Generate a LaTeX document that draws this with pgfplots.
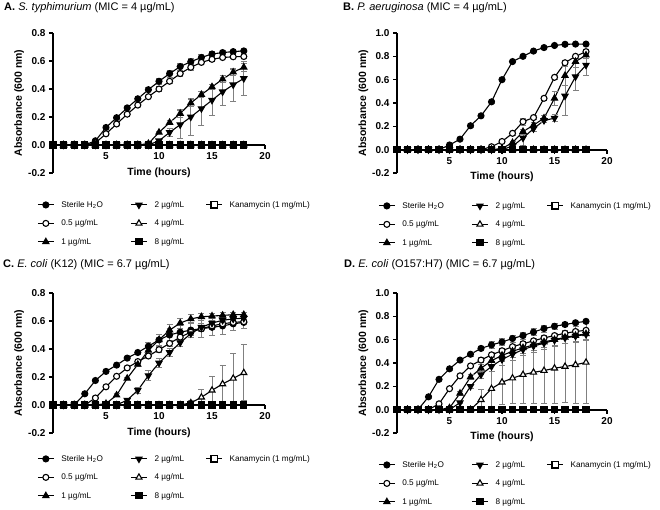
\documentclass[border=0pt]{standalone}
\usepackage{fontspec}
\setmainfont{Liberation Sans}
\usepackage{pgfplots}
\usepackage{pgfplotstable}
\pgfplotsset{compat=1.18}

% shared look of the four growth-curve panels
\pgfplotsset{
  s1/.style={black, line width=1.1pt, mark=*, mark size=3pt, mark options={solid}},
  s2/.style={black, line width=1.1pt, mark=*, mark size=3pt, mark options={solid, fill=white}},
  s3/.style={black, line width=1.1pt, mark=triangle*, mark size=3.5pt, mark options={solid}},
  s4/.style={black, line width=1.1pt, mark=triangle*, mark size=3.5pt, mark options={solid, rotate=180}},
  s5/.style={black, line width=1.1pt, mark=triangle*, mark size=3.5pt, mark options={solid, fill=white}},
  s6/.style={black, line width=1.1pt, mark=square*, mark size=3.1pt, mark options={solid}},
  s7/.style={black, line width=1.1pt, mark=square*, mark size=3.1pt, mark options={solid, fill=white}},
  eb/.style={error bars/y dir=both, error bars/y explicit,
    error bars/error bar style={gray, line width=0.8pt},
    error bars/error mark options={rotate=90, mark size=3pt, gray, line width=0.8pt}},
  panel/.style={scale only axis, width=212pt, height=140pt, xmin=0, xmax=20,
    axis x line*=middle, axis y line*=left, clip=false,
    hide obscured x ticks=false, hide obscured y ticks=false,
    axis line style={line width=1.7pt}, tick style={line width=1.4pt, black},
    major tick length=4pt, tick align=outside,
    xtick={5,10,15,20},
    xticklabel={\pgfmathprintnumber[assume math mode=true]{\tick}},
    yticklabel={\pgfmathprintnumber[assume math mode=true,fixed,fixed zerofill,precision=1]{\tick}},
    tick label style={font=\bfseries\fontsize{10}{11}\selectfont},
    label style={font=\bfseries\fontsize{10.5}{12}\selectfont},
    xlabel={Time (hours)}, ylabel={Absorbance (600 nm)},
    ylabel style={at={(axis description cs:-0.16,0.5)}, anchor=center},
    legend columns=3, legend cell align=left,
    legend style={draw=none, fill=none, font=\fontsize{8.2}{10}\selectfont, anchor=north west,
      inner sep=0pt, nodes={inner xsep=0pt, inner ysep=1pt}, row sep=9pt,
      /tikz/every odd column/.append style={column sep=7pt},
      /tikz/every even column/.append style={column sep=0pt}},
    legend image code/.code={\draw[mark repeat=2, mark phase=2, ##1] plot coordinates {(0pt,0pt) (8pt,0pt) (16pt,0pt)};}
  }
}

\newcommand{\panellegend}{%
  \addlegendimage{s1}\addlegendentry{\makebox[69pt][l]{Sterile H\textsubscript{2}O}}
  \addlegendimage{s4}\addlegendentry{\makebox[51pt][l]{2 µg/mL}}
  \addlegendimage{s7}\addlegendentry{Kanamycin (1 mg/mL)}
  \addlegendimage{s2}\addlegendentry{0.5 µg/mL}
  \addlegendimage{s5}\addlegendentry{4 µg/mL}
  \addlegendimage{empty legend}\addlegendentry{}
  \addlegendimage{s3}\addlegendentry{1 µg/mL}
  \addlegendimage{s6}\addlegendentry{8 µg/mL}
}

\pgfplotstableread{
t v
0 0
1 0
2 0
3 0
4 0
5 0
6 0
7 0
8 0
9 0
10 0
11 0
12 0
13 0
14 0
15 0
16 0
17 0
18 0
}\zeroline

% columns: water, 0.5, 1, 2, 4 ug/mL with their error
\pgfplotstableread{
t w we a ae b be c ce d de
0 0 0 0 0 0 0 0 0 0 0
1 0 0 0 0 0 0 0 0 0 0
2 0 0 0 0 0 0 0 0 0 0
3 0 0 0 0 0 0 0 0 0 0
4 0.03 0.01 0.015 0.01 0 0 0 0 0 0
5 0.125 0.01 0.08 0.01 0 0 0 0 0 0
6 0.195 0.01 0.15 0.01 0 0 0 0 0 0
7 0.265 0.01 0.22 0.01 0 0 0 0 0 0
8 0.33 0.015 0.285 0.01 0 0 0 0 0 0
9 0.395 0.015 0.345 0.01 0.01 0.005 0 0 0 0
10 0.455 0.02 0.40 0.015 0.09 0.01 0.03 0.01 0 0
11 0.51 0.025 0.455 0.015 0.16 0.015 0.09 0.03 0 0
12 0.56 0.025 0.51 0.02 0.225 0.03 0.145 0.10 0 0
13 0.595 0.025 0.555 0.02 0.30 0.025 0.20 0.13 0 0
14 0.625 0.025 0.59 0.015 0.36 0.02 0.26 0.12 0 0
15 0.65 0.02 0.612 0.015 0.415 0.02 0.32 0.11 0 0
16 0.66 0.015 0.625 0.01 0.47 0.025 0.38 0.10 0 0
17 0.667 0.01 0.63 0.01 0.52 0.02 0.43 0.12 0 0
18 0.672 0.01 0.632 0.01 0.555 0.03 0.475 0.12 0 0
}\dataA

\pgfplotstableread{
t w we a ae b be c ce d de
0 0 0 0 0 0 0 0 0 0 0
1 0 0 0 0 0 0 0 0 0 0
2 0 0 0 0 0 0 0 0 0 0
3 0 0 0 0 0 0 0 0 0 0
4 0 0 0 0 0 0 0 0 0 0
5 0.04 0.005 0 0 0 0 0 0 0 0
6 0.09 0.005 0 0 0 0 0 0 0 0
7 0.205 0.01 0 0 0 0 0 0 0 0
8 0.29 0.01 0 0 0 0 0 0 0 0
9 0.41 0.01 0.025 0.005 0 0 0 0 0 0
10 0.60 0.01 0.07 0.01 0.01 0.005 0 0 0 0
11 0.755 0.01 0.14 0.015 0.06 0.01 0.03 0.01 0 0
12 0.80 0.01 0.24 0.03 0.155 0.02 0.10 0.06 0 0
13 0.845 0.01 0.275 0.015 0.21 0.02 0.18 0.02 0 0
14 0.875 0.01 0.44 0.02 0.27 0.02 0.25 0.02 0 0
15 0.893 0.01 0.62 0.015 0.44 0.06 0.27 0.03 0 0
16 0.903 0.01 0.745 0.01 0.635 0.08 0.46 0.165 0 0
17 0.905 0.01 0.80 0.015 0.755 0.05 0.625 0.12 0 0
18 0.905 0.01 0.84 0.02 0.81 0.03 0.725 0.09 0 0
}\dataB

\pgfplotstableread{
t w we a ae b be c ce d de
0 0 0 0 0 0 0 0 0 0 0
1 0 0 0 0 0 0 0 0 0 0
2 0 0 0 0 0 0 0 0 0 0
3 0.08 0.01 0 0 0 0 0 0 0 0
4 0.175 0.01 0.05 0.01 0 0 0 0 0 0
5 0.24 0.01 0.13 0.01 0.01 0.005 0 0 0 0
6 0.285 0.01 0.205 0.01 0.07 0.01 0 0 0 0
7 0.335 0.01 0.265 0.01 0.19 0.01 0.035 0.01 0 0
8 0.375 0.015 0.31 0.01 0.29 0.015 0.105 0.02 0 0
9 0.42 0.03 0.35 0.015 0.39 0.03 0.21 0.035 0 0
10 0.465 0.04 0.395 0.02 0.465 0.04 0.30 0.03 0 0
11 0.50 0.045 0.44 0.02 0.535 0.04 0.375 0.03 0 0
12 0.52 0.05 0.485 0.025 0.585 0.035 0.445 0.03 0 0
13 0.535 0.055 0.52 0.025 0.615 0.03 0.51 0.03 0.015 0.02
14 0.545 0.06 0.545 0.02 0.63 0.025 0.555 0.025 0.055 0.055
15 0.555 0.06 0.565 0.02 0.635 0.02 0.585 0.02 0.105 0.10
16 0.565 0.06 0.58 0.02 0.64 0.02 0.605 0.02 0.15 0.135
17 0.58 0.05 0.59 0.02 0.645 0.015 0.615 0.015 0.19 0.175
18 0.59 0.04 0.595 0.015 0.645 0.015 0.62 0.015 0.23 0.20
}\dataC

\pgfplotstableread{
t w we a ae b be c ce d de
0 0 0 0 0 0 0 0 0 0 0
1 0 0 0 0 0 0 0 0 0 0
2 0 0 0 0 0 0 0 0 0 0
3 0.11 0.01 0 0 0 0 0 0 0 0
4 0.26 0.01 0.05 0.01 0 0 0 0 0 0
5 0.35 0.01 0.18 0.01 0.015 0.005 0 0 0 0
6 0.425 0.01 0.29 0.015 0.14 0.02 0.06 0.01 0 0
7 0.475 0.015 0.375 0.015 0.28 0.02 0.20 0.02 0 0
8 0.525 0.015 0.425 0.02 0.355 0.03 0.30 0.03 0.085 0.09
9 0.555 0.03 0.47 0.02 0.42 0.04 0.37 0.04 0.18 0.15
10 0.58 0.03 0.505 0.02 0.465 0.05 0.43 0.05 0.235 0.19
11 0.61 0.03 0.54 0.02 0.50 0.05 0.475 0.05 0.27 0.22
12 0.635 0.03 0.565 0.02 0.53 0.05 0.515 0.05 0.30 0.25
13 0.665 0.03 0.59 0.02 0.555 0.05 0.545 0.05 0.32 0.27
14 0.695 0.03 0.615 0.02 0.58 0.05 0.57 0.05 0.335 0.28
15 0.715 0.025 0.635 0.02 0.60 0.05 0.595 0.05 0.355 0.30
16 0.73 0.02 0.655 0.02 0.62 0.05 0.615 0.05 0.37 0.31
17 0.745 0.015 0.67 0.02 0.635 0.05 0.63 0.05 0.385 0.33
18 0.757 0.01 0.68 0.02 0.65 0.05 0.645 0.05 0.405 0.35
}\dataD

\newcommand{\panelcurves}[1]{%
  \addplot[s7, forget plot] table[x=t, y=v] {\zeroline};
  \addplot[forget plot, s1, eb] table[x=t, y=w, y error=we] {#1};
  \addplot[forget plot, s2, eb] table[x=t, y=a, y error=ae] {#1};
  \addplot[forget plot, s3, eb] table[x=t, y=b, y error=be] {#1};
  \addplot[forget plot, s4, eb] table[x=t, y=c, y error=ce] {#1};
  \addplot[forget plot, s5, eb] table[x=t, y=d, y error=de] {#1};
  \addplot[s6, forget plot] table[x=t, y=v] {\zeroline};
}

\begin{document}
\begin{tikzpicture}
\path[use as bounding box] (0pt,0pt) rectangle (660pt,510pt);

\node[anchor=west, font=\fontsize{11}{13}\selectfont, inner sep=0pt] at (4pt,502pt)
  {\textbf{A.} \textit{S. typhimurium} (MIC = 4 µg/mL)};
\node[anchor=west, font=\fontsize{11}{13}\selectfont, inner sep=0pt] at (343pt,502pt)
  {\textbf{B.} \textit{P. aeruginosa} (MIC = 4 µg/mL)};
\node[anchor=west, font=\fontsize{11}{13}\selectfont, inner sep=0pt] at (3pt,245pt)
  {\textbf{C.} \textit{E. coli} (K12) (MIC = 6.7 µg/mL)};
\node[anchor=west, font=\fontsize{11}{13}\selectfont, inner sep=0pt] at (344pt,245pt)
  {\textbf{D.} \textit{E. coli} (O157:H7) (MIC = 6.7 µg/mL)};

\begin{axis}[panel, at={(53pt,337pt)}, anchor=south west,
  ymin=-0.2, ymax=0.8, ytick={-0.2,0,0.2,0.4,0.6,0.8},
  xlabel style={at={(axis description cs:0.5,0)}, anchor=center},
  legend style={at={(axis description cs:-0.075,-0.193)}}]
\panelcurves{\dataA}
\panellegend
\end{axis}

\begin{axis}[panel, at={(397pt,337pt)}, anchor=south west, width=210pt,
  ymin=-0.2, ymax=1.0, ytick={-0.2,0,0.2,0.4,0.6,0.8,1.0},
  xlabel style={at={(axis description cs:0.5,0)}, anchor=center, yshift=-4pt},
  legend style={at={(axis description cs:-0.09,-0.2)}}]
\panelcurves{\dataB}
\panellegend
\end{axis}

\begin{axis}[panel, at={(53pt,77pt)}, anchor=south west,
  ymin=-0.2, ymax=0.8, ytick={-0.2,0,0.2,0.4,0.6,0.8},
  xlabel style={at={(axis description cs:0.5,0)}, anchor=center},
  legend style={at={(axis description cs:-0.075,-0.15)}}]
\panelcurves{\dataC}
\panellegend
\end{axis}

\begin{axis}[panel, at={(397pt,77pt)}, anchor=south west, width=210pt,
  ymin=-0.2, ymax=1.0, ytick={-0.2,0,0.2,0.4,0.6,0.8,1.0},
  xlabel style={at={(axis description cs:0.5,0)}, anchor=center, yshift=-4pt},
  legend style={at={(axis description cs:-0.09,-0.193)}}]
\panelcurves{\dataD}
\panellegend
\end{axis}
\end{tikzpicture}
\end{document}
